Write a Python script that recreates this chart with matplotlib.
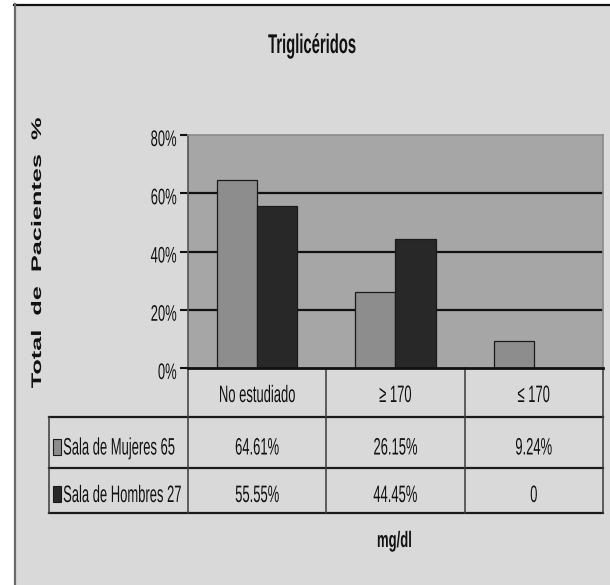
import numpy as np
import matplotlib
matplotlib.use('Agg')
import matplotlib.pyplot as plt
from matplotlib.patches import Rectangle
from matplotlib.patheffects import AbstractPathEffect
from matplotlib.transforms import Affine2D, blended_transform_factory, ScaledTranslation

categories = ['No estudiado', '≥ 170', '≤ 170']
series_names = ['Sala de Mujeres 65', 'Sala de Hombres 27']
mujeres = [64.61, 26.15, 9.24]
hombres = [55.55, 44.45, 0]
yticks = [0, 20, 40, 60, 80]

W, H = 610, 585
dpi = 100
plt.rcParams['font.family'] = ['Liberation Sans', 'DejaVu Sans']


class Stretch(AbstractPathEffect):
    # narrow, tall lettering like the old Excel export (Arial Narrow, squeezed)
    def __init__(self, sx, sy, anchor='center'):
        super().__init__()
        self.sx, self.sy, self.anchor = sx, sy, anchor

    def draw_path(self, renderer, gc, tpath, affine, rgbFace=None):
        ext = tpath.get_extents()
        x0 = {'left': ext.x0, 'center': (ext.x0 + ext.x1) / 2, 'right': ext.x1}[self.anchor]
        st = Affine2D().translate(-x0, 0).scale(self.sx, self.sy).translate(x0, 0)
        renderer.draw_path(gc, tpath, st + affine, rgbFace)


def fx(x):
    return x / W


def fy(y):
    return 1 - y / H


def pct(v):
    return '0' if v == 0 else f'{v:.2f}%'


fig = plt.figure(figsize=(W / dpi, H / dpi), dpi=dpi, facecolor='white')

# chart area background and frame
fig.patches.append(Rectangle((fx(14), 0), 1 - fx(14), fy(4), transform=fig.transFigure,
                             facecolor='#d9d9d9', edgecolor='none', zorder=-5))
fig.add_artist(plt.Line2D([fx(14), 1], [fy(4.5), fy(4.5)], color='#111111', lw=1.6))
fig.add_artist(plt.Line2D([fx(14.5), fx(14.5)], [0, fy(4)], color='#6a6a6a', lw=1.6))

ax = fig.add_axes([fx(188), fy(368), fx(603) - fx(188), (368 - 135) / H])
ax.set_facecolor('#a6a6a6')
ax.set_xlim(-0.5, len(categories) - 0.5)
ax.set_ylim(0, 80)

x = np.arange(len(categories))
w = 0.29
for v in yticks[1:-1]:
    ax.axhline(v, color='#111111', lw=1.6, zorder=1)
ax.bar(x - w / 2, mujeres, w, color='#8d8d8d', edgecolor='#1a1a1a', lw=0.9, zorder=2)
ax.bar(x + w / 2, hombres, w, color='#282828', edgecolor='#1a1a1a', lw=0.9, zorder=2)

for side, col, lw in [('left', '#555555', 1.2), ('top', '#8a8a8a', 1.2),
                      ('right', '#8a8a8a', 1.2), ('bottom', '#111111', 2.0)]:
    ax.spines[side].set_color(col)
    ax.spines[side].set_linewidth(lw)
ax.set_xticks([])
ax.set_yticks(yticks)
ax.set_yticklabels([])
ax.tick_params(axis='y', length=6, width=1.5, color='#111111', direction='out')

# y tick labels
tick_tr = blended_transform_factory(fig.transFigure, ax.transData) + \
    ScaledTranslation(0, -11 / dpi, fig.dpi_scale_trans)
for v in yticks:
    ax.text(fx(177), v, f'{v}%', transform=tick_tr, ha='right', va='baseline',
            fontsize=11.4, color='#111111', path_effects=[Stretch(0.82, 1.42, 'right')])

# data table under the plot
col_tr = blended_transform_factory(ax.transData, fig.transFigure)
row_tr = blended_transform_factory(fig.transFigure, fig.transFigure)
rows = [368, 417, 468, 513]
for y in rows[1:]:
    ax.plot([fx(49), fx(603)], [fy(y), fy(y)], transform=row_tr, clip_on=False,
            color='#1a1a1a', lw=1.6)
for b in np.arange(len(categories) + 1) - 0.5:
    ax.plot([b, b], [fy(rows[0]), fy(rows[-1])], transform=col_tr, clip_on=False,
            color='#3a3a3a', lw=1.1)
ax.plot([fx(49), fx(49)], [fy(rows[1]), fy(rows[-1])], transform=row_tr, clip_on=False,
        color='#3a3a3a', lw=1.1)

baselines = [402, 454.5, 502]
for i, c in enumerate(categories):
    ax.text(x[i], fy(baselines[0]), c, transform=col_tr, ha='center', va='baseline',
            fontsize=11.4, color='#111111', path_effects=[Stretch(0.82, 1.5)])

for r, (name, vals, fc) in enumerate([(series_names[0], mujeres, '#8d8d8d'),
                                      (series_names[1], hombres, '#282828')]):
    yb = baselines[r + 1]
    fig.patches.append(Rectangle((fx(53), fy(yb)), fx(61) - fx(53), 16 / H,
                                 transform=fig.transFigure, facecolor=fc,
                                 edgecolor='#1a1a1a', lw=0.8))
    fig.text(fx(63), fy(yb), name, ha='left', va='baseline', fontsize=11.4,
             color='#111111', path_effects=[Stretch(0.82, 1.5, 'left')])
    for i, v in enumerate(vals):
        ax.text(x[i], fy(yb), pct(v), transform=col_tr, ha='center', va='baseline',
                fontsize=11.4, color='#111111', path_effects=[Stretch(0.82, 1.5)])

# titles
fig.text(fx(312), fy(53), 'Triglicéridos', ha='center', va='baseline', fontsize=13,
         fontweight='bold', color='#111111', path_effects=[Stretch(0.82, 1.5)])
fig.text(fx(394.5), fy(547), 'mg/dl', ha='center', va='baseline', fontsize=11.5,
         fontweight='bold', color='#111111', path_effects=[Stretch(0.82, 1.4)])
fig.text(fx(37), fy(253), 'Total  de  Pacientes  %', rotation=90, ha='center',
         va='center', fontsize=10, fontweight='bold', color='#111111',
         path_effects=[Stretch(1.82, 1.0)])

fig.savefig('out.png', dpi=dpi, facecolor=fig.get_facecolor())
